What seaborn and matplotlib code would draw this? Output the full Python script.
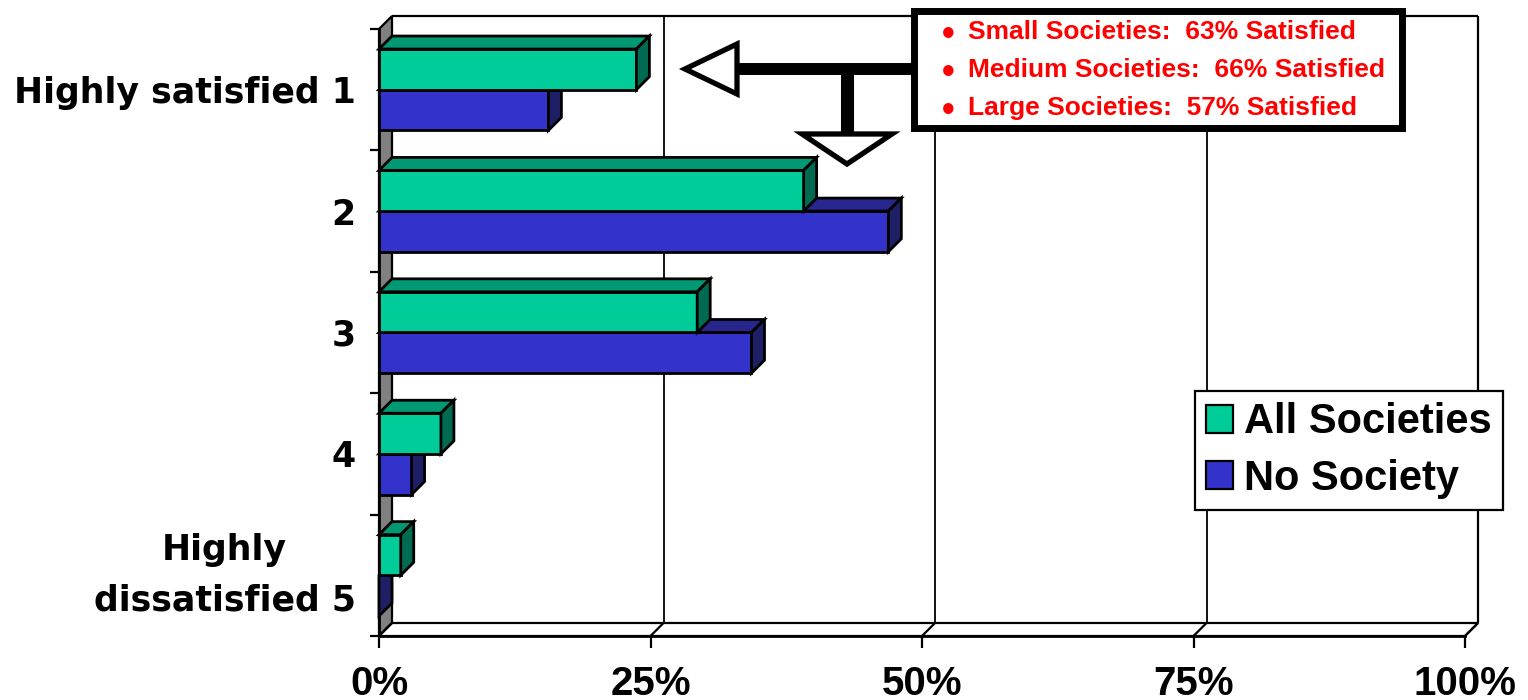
import numpy as np
import pandas as pd
import matplotlib
matplotlib.use("Agg")
import matplotlib.pyplot as plt
from matplotlib.patches import Polygon, Rectangle, Patch
from matplotlib.lines import Line2D
from matplotlib.font_manager import FontProperties
from matplotlib.colors import to_rgba
import seaborn as sns

# ---------------- data ----------------
categories = ["Highly satisfied 1", "2", "3", "4", "Highly\ndissatisfied 5"]
series_names = ["All Societies", "No Society"]
all_societies = [23.7, 39.1, 29.3, 5.7, 2.0]
no_society = [15.6, 46.9, 34.3, 3.0, 0.0]
x_ticks = [0, 25, 50, 75, 100]
x_tick_labels = ["0%", "25%", "50%", "75%", "100%"]
callout_lines = ["Small Societies:  63% Satisfied",
                 "Medium Societies:  66% Satisfied",
                 "Large Societies:  57% Satisfied"]

# ---------------- styles ----------------
front_colors = {"All Societies": "#00CC99", "No Society": "#3333CC"}
top_colors = {"All Societies": "#009973", "No Society": "#26268C"}
side_colors = {"All Societies": "#006B50", "No Society": "#1F1F66"}
wall_gray = "#808080"

W, H = 1528, 700
fig = plt.figure(figsize=(W / 100, H / 100), dpi=100)


def fx(x):
    return x / W


def fy(y):
    return 1 - y / H


ax = fig.add_axes([fx(379), fy(636), fx(1465) - fx(379), fy(29) - fy(636)])

df = pd.DataFrame({
    "category": categories * 2,
    "value": all_societies + no_society,
    "series": [series_names[0]] * len(categories) + [series_names[1]] * len(categories),
})

sns.barplot(data=df, x="value", y="category", hue="series", order=categories,
            hue_order=series_names, palette=front_colors, width=0.67,
            edgecolor="black", linewidth=2.0, saturation=1, legend=False,
            ax=ax, orient="h", errorbar=None)

ax.set_xlim(0, 100)
ax.set_ylim(4.5, -0.5)
ax.set_xlabel("")
ax.set_ylabel("")
ax.set_facecolor("none")

# depth of the 3D effect in data units (13 px right, 13 px up)
D = 13
p0 = ax.transData.transform((0, 0))
q = ax.transData.inverted().transform(p0 + np.array([D, D]))
ddx, ddy = q[0], q[1]

ymin, ymax = -0.5, 4.5
edge_kw = dict(edgecolor="black", clip_on=False)

# left wall
ax.add_patch(Polygon([(0, ymax), (ddx, ymax + ddy), (ddx, ymin + ddy), (0, ymin)],
                     closed=True, facecolor=wall_gray, linewidth=1.6, zorder=1, **edge_kw))
# floor
ax.add_patch(Polygon([(0, ymax), (100, ymax), (100 + ddx, ymax + ddy), (ddx, ymax + ddy)],
                     closed=True, facecolor="white", linewidth=1.6, zorder=1, **edge_kw))
# back wall frame + gridlines
line_kw = dict(color="black", clip_on=False, zorder=1.2, solid_capstyle="butt")
ax.add_line(Line2D([ddx, 100 + ddx], [ymin + ddy, ymin + ddy], linewidth=1.6, **line_kw))
ax.add_line(Line2D([100 + ddx, 100 + ddx], [ymin + ddy, ymax + ddy], linewidth=1.6, **line_kw))
for t in x_ticks[1:-1]:
    ax.add_line(Line2D([t + ddx, t + ddx], [ymin + ddy, ymax + ddy], linewidth=1.3, **line_kw))
for t in x_ticks:
    ax.add_line(Line2D([t, t + ddx], [ymax, ymax + ddy], linewidth=1.6, **line_kw))


# 3D faces for bars
def series_of(patch):
    fc = np.array(patch.get_facecolor())
    best, bd = None, 1e9
    for name, c in front_colors.items():
        d = np.abs(fc - np.array(to_rgba(c))).sum()
        if d < bd:
            best, bd = name, d
    return best


bars = [p for p in ax.patches if isinstance(p, Rectangle)]
for p in list(bars):
    name = series_of(p)
    z = 4 if name == series_names[0] else 3
    p.set_zorder(z)
    x0, w = p.get_x(), p.get_width()
    y0, h = p.get_y(), p.get_height()
    yt, yb = min(y0, y0 + h), max(y0, y0 + h)
    x1 = x0 + w
    top = Polygon([(x0, yt), (x1, yt), (x1 + ddx, yt + ddy), (x0 + ddx, yt + ddy)],
                  closed=True, facecolor=top_colors[name], linewidth=2.0, zorder=z, **edge_kw)
    side = Polygon([(x1, yt), (x1 + ddx, yt + ddy), (x1 + ddx, yb + ddy), (x1, yb)],
                   closed=True, facecolor=side_colors[name], linewidth=2.0, zorder=z, **edge_kw)
    ax.add_patch(top)
    ax.add_patch(side)

# spines / ticks
for s in ["top", "right"]:
    ax.spines[s].set_visible(False)
for s in ["left", "bottom"]:
    ax.spines[s].set_linewidth(2.0)
    ax.spines[s].set_color("black")
    ax.spines[s].set_zorder(2)

xfont = FontProperties(family="Liberation Sans", weight="bold", size=29)
yfont = FontProperties(family="DejaVu Sans", weight="bold", size=25)

ax.set_xticks(x_ticks)
ax.set_xticklabels(x_tick_labels, fontproperties=xfont)
ax.tick_params(axis="x", length=8.6, width=1.6, direction="out", pad=12, colors="black")

ax.set_yticks(range(len(categories)))
ax.set_yticklabels(categories, fontproperties=yfont)
ax.set_yticks(np.arange(-0.5, len(categories), 1.0), minor=True)
ax.tick_params(axis="y", which="major", length=0, pad=17)
ax.tick_params(axis="y", which="minor", length=6.5, width=1.6, direction="out")
for lab in ax.get_yticklabels():
    lab.set_multialignment("center")
    lab.set_linespacing(1.6)
    if "\n" in lab.get_text():
        lab.set_verticalalignment("center")

# legend
handles = [Patch(facecolor=front_colors[n], edgecolor="black", linewidth=1.6, label=n)
           for n in series_names]
leg = fig.legend(handles=handles, loc="upper left", bbox_to_anchor=(fx(1195), fy(391)),
                 bbox_transform=fig.transFigure, frameon=True, fancybox=False,
                 edgecolor="black", framealpha=1,
                 prop=FontProperties(family="Liberation Sans", weight="bold", size=30),
                 handlelength=0.65, handleheight=0.65, handletextpad=0.25,
                 borderpad=0.27, labelspacing=0.4, borderaxespad=0)
leg.get_frame().set_linewidth(1.6)
leg.set_zorder(10)

# callout box
box = Rectangle((fx(914.5), fy(127.5)), fx(1401.5) - fx(914.5), fy(10.5) - fy(127.5),
                transform=fig.transFigure, facecolor="white", edgecolor="black",
                linewidth=5, zorder=10)
fig.add_artist(box)
for i, line in enumerate(callout_lines):
    yc = 32 + 38 * i
    fig.text(fx(948), fy(yc + 3), "\u2022", ha="center", va="center", color="#FF0000",
             fontsize=26, fontweight="bold", family="Liberation Sans", zorder=11)
    fig.text(fx(968), fy(yc), line, ha="left", va="center", color="#FF0000",
             fontsize=19, fontweight="bold", family="Liberation Sans", zorder=11)

# hollow arrows
fig.add_artist(Line2D([fx(912), fx(737)], [fy(69), fy(69)], transform=fig.transFigure,
                      color="black", linewidth=8.6, solid_capstyle="butt", zorder=10))
fig.add_artist(Line2D([fx(847), fx(847)], [fy(69), fy(133)], transform=fig.transFigure,
                      color="black", linewidth=9.4, solid_capstyle="butt", zorder=10))
fig.add_artist(Polygon([(fx(685), fy(69)), (fx(737), fy(44)), (fx(737), fy(94))], closed=True,
                       transform=fig.transFigure, facecolor="white", edgecolor="black",
                       linewidth=3.8, joinstyle="miter", zorder=11))
fig.add_artist(Polygon([(fx(802), fy(134)), (fx(892), fy(134)), (fx(847), fy(164))], closed=True,
                       transform=fig.transFigure, facecolor="white", edgecolor="black",
                       linewidth=3.8, joinstyle="miter", zorder=11))

fig.savefig("out.png", dpi=100, facecolor="white")
